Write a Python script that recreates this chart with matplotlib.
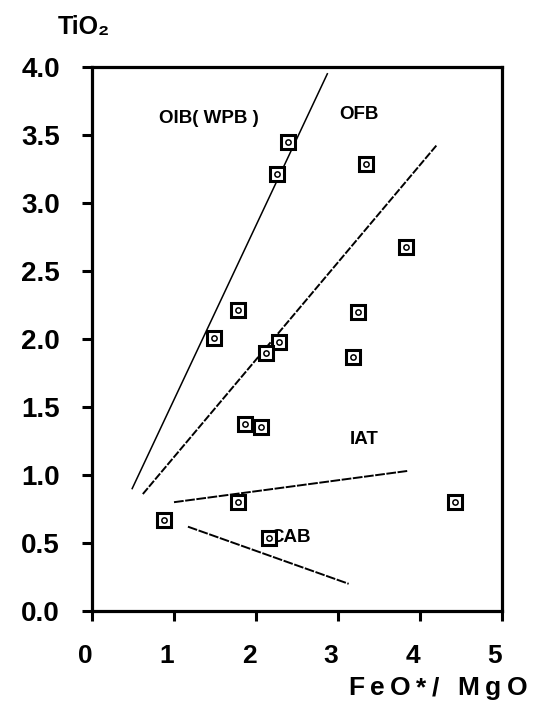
import matplotlib
matplotlib.use("Agg")
import matplotlib.pyplot as plt
import matplotlib.transforms as mtransforms

plt.rcParams['font.family'] = ['Liberation Sans', 'DejaVu Sans']

# sample data: FeO*/MgO vs TiO2
feo_mgo = [2.39, 2.26, 3.34, 3.83, 1.78, 3.24, 1.49, 2.28, 2.12, 3.18,
           1.86, 2.06, 1.78, 4.43, 0.88, 2.16]
tio2 = [3.45, 3.21, 3.29, 2.68, 2.21, 2.20, 2.01, 1.98, 1.90, 1.87,
        1.375, 1.35, 0.80, 0.80, 0.67, 0.54]

# field boundaries
oib_ofb_x = [0.49, 2.87]
oib_ofb_y = [0.90, 3.95]
ofb_iat_x = [0.62, 4.21]
ofb_iat_y = [0.86, 3.43]
iat_cab_x = [1.00, 3.85]
iat_cab_y = [0.80, 1.03]
cab_x = [1.17, 3.13]
cab_y = [0.62, 0.20]

# field names
fields = ['OIB( WPB )', 'OFB', 'IAT', 'CAB']
field_x = [1.43, 3.26, 3.32, 2.42]
field_y = [3.62, 3.65, 1.26, 0.54]

xticks = [0, 1, 2, 3, 4, 5]
yticks = [0.0, 0.5, 1.0, 1.5, 2.0, 2.5, 3.0, 3.5, 4.0]


def spaced_text(fig, x_right, y, s, track, **kw):
    """Right-aligned figure text (pixel coords) with extra letter spacing."""
    r = fig.canvas.get_renderer()
    tmp = fig.text(0, 0, s, **kw)
    full = tmp.get_window_extent(r).width
    tmp.remove()
    total = full + track * (len(s) - 1)
    x0 = x_right - total
    for i, ch in enumerate(s):
        if ch == ' ':
            continue
        if i:
            t = fig.text(0, 0, s[:i], **kw)
            off = t.get_window_extent(r).width
            t.remove()
        else:
            off = 0
        fig.text((x0 + off + i * track) / 533, 1 - y / 706, ch,
                 ha='left', va='center', **kw)


fig = plt.figure(figsize=(5.33, 7.06), dpi=100)
ax = fig.add_axes([92 / 533, 1 - 611 / 706, (502 - 92) / 533, (611 - 67) / 706])

ax.plot(oib_ofb_x, oib_ofb_y, color='black', lw=1.1)
ax.plot(ofb_iat_x, ofb_iat_y, color='black', lw=1.4, dashes=(4, 0.9))
ax.plot(iat_cab_x, iat_cab_y, color='black', lw=1.4, dashes=(5, 0.8))
ax.plot(cab_x, cab_y, color='black', lw=1.4, dashes=(5, 0.8))

ax.plot(feo_mgo, tio2, 's', ms=9.5, mfc='white', mec='black', mew=2.2, zorder=3)
ax.plot(feo_mgo, tio2, 'o', ms=3.8, mfc='none', mec='black', mew=1.1, zorder=4)

for name, x, y in zip(fields, field_x, field_y):
    ax.text(x, y, name, ha='center', va='center', fontsize=13.5,
            fontweight='bold', zorder=2)

ax.set_xlim(0, 5)
ax.set_ylim(0, 4.0)
ax.set_xticks(xticks)
ax.set_xticklabels([str(t) for t in xticks])
ax.set_yticks(yticks)
ax.set_yticklabels(['%.1f' % t for t in yticks])

for s in ax.spines.values():
    s.set_linewidth(2.3)
ax.tick_params(direction='out', length=7, width=2.2, labelsize=20)
ax.tick_params(axis='y', pad=16)
ax.tick_params(axis='x', pad=17, labelsize=19)
for lab in ax.get_xticklabels() + ax.get_yticklabels():
    lab.set_fontweight('bold')
# x tick labels sit a little left of their ticks
shift = mtransforms.ScaledTranslation(-7 / 100, 0, fig.dpi_scale_trans)
for lab in ax.get_xticklabels():
    lab.set_transform(lab.get_transform() + shift)

fig.text(84 / 533, 1 - 27 / 706, 'TiO₂', ha='center', va='center',
         fontsize=18, fontweight='bold')
spaced_text(fig, 527, 688, 'FeO*/ MgO', 5.5, fontsize=19, fontweight='bold')

fig.savefig('out.png', dpi=100)
